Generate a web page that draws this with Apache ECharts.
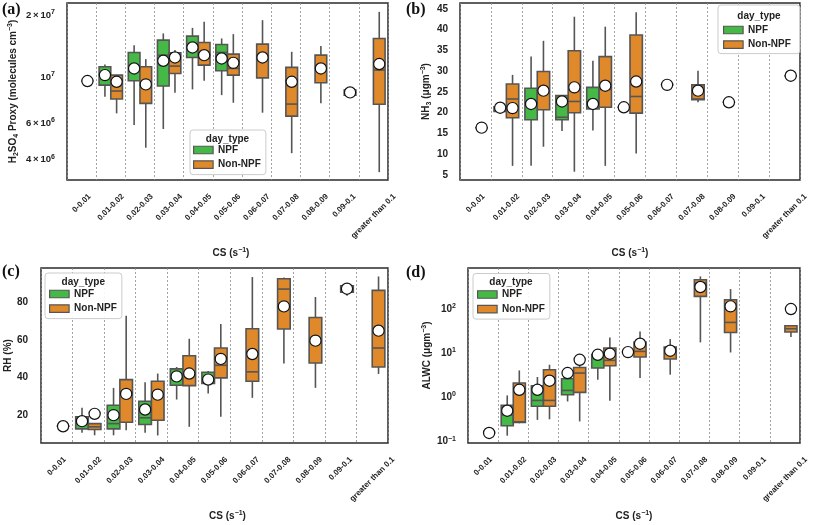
<!DOCTYPE html>
<html><head><meta charset="utf-8">
<script src="https://cdn.jsdelivr.net/npm/echarts@6/dist/echarts.min.js"></script>
<style>html,body{margin:0;padding:0;background:#fff}#c{width:813px;height:525px}</style>
</head><body><div id="c"></div>
<script>
// ---------- data ----------
const categories = ['0-0.01','0.01-0.02','0.02-0.03','0.03-0.04','0.04-0.05','0.05-0.06','0.06-0.07','0.07-0.08','0.08-0.09','0.09-0.1','greater than 0.1'];
const groups = ['NPF', 'Non-NPF'];

// (a) H2SO4 proxy: [min, Q1, median, Q3, max]
const h2so4NPF = [null,
  [8.06e6, 9.18e6, 1.02e7, 1.125e7, 1.156e7],
  [5.88e6, 9.63e6, 1.10e7, 1.32e7, 1.43e7],
  [5.63e6, 9.08e6, 1.281e7, 1.514e7, 1.632e7],
  [8.75e6, 1.249e7, 1.42e7, 1.583e7, 1.736e7],
  [8.21e6, 1.076e7, 1.32e7, 1.443e7, 1.543e7],
  null, null, null, null, null];
const h2so4NPFMean = [null, 1.026e7, 1.105e7, 1.203e7, 1.396e7, 1.235e7, null, null, null, null, null];
const h2so4Non = [
  [9.6e6, 9.6e6, 9.6e6, 9.6e6, 9.6e6],
  [6.70e6, 7.86e6, 8.59e6, 1.026e7, 1.026e7],
  [4.57e6, 7.49e6, 9.2e6, 1.125e7, 1.226e7],
  [8.43e6, 1.045e7, 1.134e7, 1.315e7, 1.355e7],
  [9.63e6, 1.147e7, 1.29e7, 1.476e7, 1.856e7],
  [7.54e6, 1.026e7, 1.105e7, 1.296e7, 1.619e7],
  [6.75e6, 9.95e6, 1.25e7, 1.448e7, 1.891e7],
  [4.30e6, 6.50e6, 7.43e6, 1.118e7, 1.33e7],
  [7.49e6, 9.42e6, 1.10e7, 1.281e7, 1.42e7],
  [8.06e6, 8.21e6, 8.45e6, 8.68e6, 8.68e6],
  [3.48e6, 7.41e6, 1.085e7, 1.543e7, 2.075e7]];
const h2so4NonMean = [9.6e6, 9.52e6, 9.25e6, 1.249e7, 1.281e7, 1.176e7, 1.249e7, 9.52e6, 1.105e7, 8.46e6, 1.16e7];

// (b) NH3
const nh3NPF = [null,
  [20.2, 20.3, 20.8, 21.4, 21.5],
  [7.2, 18.3, 22.0, 25.9, 33.5],
  [15.6, 18.3, 18.9, 24.1, 24.1],
  [15.7, 20.9, 21.8, 26.1, 32.5],
  [21.3, 21.3, 21.3, 21.3, 21.3],
  null, null, null, null, null];
const nh3NPFMean = [null, 21.2, 22.1, 22.7, 22.1, 21.3, null, null, null, null, null];
const nh3Non = [
  [16.4, 16.4, 16.4, 16.4, 16.4],
  [7.2, 18.8, 23.3, 26.9, 29.1],
  [11.8, 20.7, 25.0, 29.9, 37.3],
  [5.8, 20.0, 22.7, 34.9, 43.1],
  [7.2, 21.3, 25.6, 33.5, 40.7],
  [10.2, 19.9, 23.9, 38.7, 44.2],
  [26.7, 26.7, 26.7, 26.7, 26.7],
  [22.5, 23.1, 23.3, 26.7, 30.1],
  [22.5, 22.5, 22.5, 22.5, 22.5],
  null,
  [28.9, 28.9, 28.9, 28.9, 28.9]];
const nh3NonMean = [16.4, 21.1, 25.3, 26.1, 26.5, 27.5, 26.7, 25.3, 22.5, null, 28.9];

// (c) RH
const rhNPF = [null,
  [10.7, 12.8, 16.0, 19.2, 24.0],
  [9.4, 12.8, 15.6, 25.4, 34.6],
  [10.7, 15.1, 18.7, 27.5, 37.6],
  [28.4, 36.0, 41.0, 44.7, 45.7],
  [31.6, 36.9, 39.5, 42.9, 43.6],
  null, null, null, null, null];
const rhNPFMean = [null, 16.9, 20.1, 23.1, 40.7, 39.0, null, null, null, null, null];
const rhNon = [
  [14.2, 14.2, 14.2, 14.2, 14.2],
  [9.4, 12.5, 13.9, 15.6, 15.6],
  [12.1, 16.3, 32.5, 39.0, 72.9],
  [9.3, 17.4, 31.0, 38.1, 42.2],
  [13.9, 35.8, 42.0, 51.7, 60.7],
  [19.2, 39.9, 46.6, 55.8, 68.5],
  [29.3, 38.1, 43.1, 66.0, 93.5],
  [47.5, 65.9, 87.1, 92.6, 93.3],
  [34.6, 47.8, 61.1, 72.0, 82.9],
  [83.6, 85.5, 87.3, 88.9, 88.9],
  [42.0, 45.7, 55.8, 86.4, 93.8]];
const rhNonMean = [14.2, 20.8, 31.4, 31.0, 42.2, 50.0, 52.6, 77.9, 59.7, 87.3, 65.0];

// (d) ALWC
const alwcNPF = [null,
  [0.136, 0.229, 0.40, 0.66, 1.11],
  [0.31, 0.63, 0.855, 1.84, 2.9],
  [0.81, 1.15, 1.44, 2.65, 2.65],
  [2.51, 4.62, 8.0, 9.25, 9.5],
  [10.6, 10.6, 10.6, 10.6, 10.6],
  null, null, null, null, null];
const alwcNPFMean = [null, 0.50, 1.49, 3.56, 9.2, 10.6, null, null, null, null, null];
const alwcNon = [
  [0.157, 0.157, 0.157, 0.157, 0.157],
  [0.26, 0.272, 0.28, 2.12, 4.08],
  [0.32, 0.63, 0.855, 4.23, 5.5],
  [0.286, 1.30, 3.56, 4.77, 5.5],
  [0.84, 5.2, 6.9, 13.1, 22.8],
  [2.75, 8.2, 11.0, 17.9, 31.1],
  [3.27, 7.4, 11.0, 13.8, 20.9],
  [17.6, 193, 387, 460, 547],
  [10.4, 29.5, 49.8, 162, 283],
  null,
  [23.3, 30.2, 35.8, 41.9, 41.9]];
const alwcNonMean = [0.157, 1.49, 2.39, 7.1, 9.75, 16.4, 11.4, 315, 115, null, 100];

// tick labels
const h2so4Ticks = [4e6, 6e6, 1e7, 2e7];
const nh3Ticks = [5, 10, 15, 20, 25, 30, 35, 40, 45];
const rhTicks = [20, 40, 60, 80];
const alwcTicks = [0.1, 1, 10, 100];

// ---------- styling ----------
const FONT = '"Liberation Sans", Arial, sans-serif';
const GREEN = '#45b945', ORANGE = '#e0892a', EDGE = '#555555';
const TXT = '#222';

const chart = echarts.init(document.getElementById('c'), null, {renderer: 'canvas'});

function boxData(stats) { const out = []; stats.forEach((s, i) => { if (s) out.push([i].concat(s)); }); return out; }
function meanData(ms) { const out = []; ms.forEach((m, i) => { if (m != null) out.push([i, m]); }); return out; }

function renderBox(side) {
  return function (params, api) {
    const i = api.value(0);
    const v = [api.value(1), api.value(2), api.value(3), api.value(4), api.value(5)];
    const band = api.coord([1, v[2]])[0] - api.coord([0, v[2]])[0];
    const cx = api.coord([i, v[2]])[0] + side * 0.2 * band;
    const w = 0.4 * band;
    const y = v.map(val => api.coord([i, val])[1]);
    const ls = {stroke: EDGE, lineWidth: 1.6};
    return {type: 'group', children: [
      {type: 'line', shape: {x1: cx, y1: y[4], x2: cx, y2: y[3]}, style: ls},
      {type: 'line', shape: {x1: cx, y1: y[1], x2: cx, y2: y[0]}, style: ls},
      {type: 'rect', shape: {x: cx - w / 2, y: y[3], width: w, height: Math.max(y[1] - y[3], 0)},
        style: {fill: api.visual('color'), stroke: EDGE, lineWidth: 1.6}},
      {type: 'line', shape: {x1: cx - w / 2, y1: y[2], x2: cx + w / 2, y2: y[2]}, style: ls}
    ]};
  };
}
function renderMean(side) {
  return function (params, api) {
    const i = api.value(0), m = api.value(1);
    const p = api.coord([i, m]);
    const band = api.coord([1, m])[0] - api.coord([0, m])[0];
    return {type: 'circle', shape: {cx: p[0] + side * 0.2 * band, cy: p[1], r: 5.6},
      style: {fill: '#ffffff', stroke: '#111', lineWidth: 1.2}};
  };
}

// rotated x label padding (per label) to emulate top-aligned rotated bbox
const mctx = document.createElement('canvas').getContext('2d');
mctx.font = 'bold 8px "Liberation Sans"';
const xRich = {};
categories.forEach((c, i) => {
  const L = mctx.measureText(c).width;
  const p = 0.5 * (L + 9);
  xRich['p' + i] = {fontSize: 8, fontWeight: 'bold', fontFamily: FONT, color: TXT, padding: [p, p, 0, 0]};
});

const nameRich = {
  n: {fontSize: 10, fontWeight: 'bold', fontFamily: FONT, color: TXT},
  sp: {fontSize: 7, fontWeight: 'bold', fontFamily: FONT, color: TXT, padding: [0, 0, 6, 0]},
  sb: {fontSize: 7, fontWeight: 'bold', fontFamily: FONT, color: TXT, padding: [5, 0, 0, 0]}
};

const grids = [
  {left: 67, top: 3, width: 321, height: 177},
  {left: 460, top: 3, width: 340, height: 177},
  {left: 41, top: 268, width: 347, height: 175},
  {left: 468, top: 268, width: 332, height: 175}
].map(g => Object.assign({show: true, borderColor: '#2b2b2b', borderWidth: 1.5, backgroundColor: 'transparent', containLabel: false}, g));

const xNamePad = [[0, 0, 0, 7], [0, 0, 0, 0], [0, 0, 0, 26], [0, 0, 0, 0]];
const xAxes = grids.map((g, gi) => ({
  type: 'category', gridIndex: gi, data: categories, boundaryGap: true,
  axisLine: {show: false}, axisTick: {show: false},
  splitLine: {show: true, lineStyle: {color: '#8c8c8c', width: 0.8, type: [2, 2]}},
  axisLabel: {interval: 0, rotate: 45, align: 'center', verticalAlign: 'middle', margin: 12,
    formatter: (v, i) => '{p' + i + '|' + v + '}', rich: xRich},
  name: '{n|CS (s}{sp|−1}{n|)}', nameLocation: 'middle', nameGap: 67,
  nameTextStyle: {rich: nameRich, padding: xNamePad[gi]}
}));

function sciFmt(v) {
  const e = Math.floor(Math.log10(v) + 1e-6);
  const m = Math.round(v / Math.pow(10, e));
  return m === 1 ? '10{s|' + e + '}' : m + '\u2009×\u200910{s|' + e + '}';
}
function expFmt(v) {
  const e = Math.round(Math.log10(v));
  return '10{s|' + (e < 0 ? '−' + (-e) : e) + '}';
}
const labBase = {fontSize: 10, fontWeight: 'bold', fontFamily: FONT, color: TXT};
const yCommon = {axisLine: {show: false}, axisTick: {show: false}, splitLine: {show: false}, minorTick: {show: false}, minorSplitLine: {show: false},
  nameLocation: 'middle', nameRotate: 90};

const yAxes = [
  Object.assign({}, yCommon, {type: 'log', logBase: 10, gridIndex: 0, min: 3.19e6, max: 2.29e7,
    axisLabel: {customValues: h2so4Ticks, formatter: sciFmt, margin: 12,
      rich: {s: {fontSize: 7, fontWeight: 'bold', fontFamily: FONT, color: TXT, padding: [0, 0, 6, 0]}},
      fontSize: 9.5, fontWeight: 'bold', fontFamily: FONT, color: TXT},
    name: '{n|H}{sb|2}{n|SO}{sb|4}{n| Proxy (molecules cm}{sp|−3}{n|)}', nameGap: 47,
    nameTextStyle: {rich: nameRich}}),
  Object.assign({}, yCommon, {type: 'value', gridIndex: 1, min: 3.8, max: 46.4,
    axisLabel: Object.assign({customValues: nh3Ticks, margin: 12}, labBase),
    name: '{n|NH}{sb|3}{n| (μgm}{sp|−3}{n|)}', nameGap: 27, nameTextStyle: {rich: nameRich}}),
  Object.assign({}, yCommon, {type: 'value', gridIndex: 2, min: 5.3, max: 98.3,
    axisLabel: Object.assign({customValues: rhTicks, margin: 13}, labBase),
    name: '{n|RH (%)}', nameGap: 25, nameTextStyle: {rich: nameRich}}),
  Object.assign({}, yCommon, {type: 'log', logBase: 10, gridIndex: 3, min: 0.093, max: 848,
    axisLabel: Object.assign({customValues: alwcTicks, formatter: expFmt, margin: 12,
      rich: {s: {fontSize: 7, fontWeight: 'bold', fontFamily: FONT, color: TXT, padding: [0, 0, 6, 0]}}}, labBase),
    name: '{n|ALWC (μgm}{sp|−3}{n|)}', nameGap: 34, nameTextStyle: {rich: nameRich}})
];

const panels = [
  {npf: h2so4NPF, npfMean: h2so4NPFMean, non: h2so4Non, nonMean: h2so4NonMean},
  {npf: nh3NPF, npfMean: nh3NPFMean, non: nh3Non, nonMean: nh3NonMean},
  {npf: rhNPF, npfMean: rhNPFMean, non: rhNon, nonMean: rhNonMean},
  {npf: alwcNPF, npfMean: alwcNPFMean, non: alwcNon, nonMean: alwcNonMean}
];

const series = [];
panels.forEach((p, g) => {
  series.push({type: 'custom', name: groups[0], xAxisIndex: g, yAxisIndex: g, renderItem: renderBox(-1),
    data: boxData(p.npf), encode: {x: 0, y: [1, 2, 3, 4, 5]}, itemStyle: {color: GREEN}, z: 2, silent: true});
  series.push({type: 'custom', name: groups[1], xAxisIndex: g, yAxisIndex: g, renderItem: renderBox(1),
    data: boxData(p.non), encode: {x: 0, y: [1, 2, 3, 4, 5]}, itemStyle: {color: ORANGE}, z: 2, silent: true});
  series.push({type: 'custom', name: 'mean-npf-' + g, xAxisIndex: g, yAxisIndex: g, renderItem: renderMean(-1),
    data: meanData(p.npfMean), encode: {x: 0, y: 1}, z: 5, silent: true});
  series.push({type: 'custom', name: 'mean-non-' + g, xAxisIndex: g, yAxisIndex: g, renderItem: renderMean(1),
    data: meanData(p.nonMean), encode: {x: 0, y: 1}, z: 5, silent: true});
});

const legendBoxes = [
  {left: 190, top: 130, padding: [14, 5, 4, 3], title: [227.5, 139]},
  {left: 718, top: 5, padding: [19, 9, 3, 5], title: [759, 16.5]},
  {left: 45, top: 273, padding: [15, 5, 4, 4], title: [83.3, 282]},
  {left: 473, top: 273.5, padding: [15, 5, 4, 4], title: [511, 282.5]}
];
const legends = legendBoxes.map(b => ({
  left: b.left, top: b.top, orient: 'vertical', padding: b.padding, itemGap: 2.6,
  itemWidth: 19.5, itemHeight: 7.5, selectedMode: false,
  backgroundColor: 'rgba(255,255,255,0.9)', borderColor: '#cccccc', borderWidth: 1, borderRadius: 3,
  textStyle: {fontSize: 10, fontWeight: 'bold', fontFamily: FONT, color: TXT, lineHeight: 12},
  data: [
    {name: groups[0], icon: 'rect', itemStyle: {color: GREEN, borderColor: EDGE, borderWidth: 1.2}},
    {name: groups[1], icon: 'rect', itemStyle: {color: ORANGE, borderColor: EDGE, borderWidth: 1.2}}
  ]
}));

const graphics = [];
legendBoxes.forEach(b => graphics.push({type: 'text', x: b.title[0], y: b.title[1], z: 100,
  style: {text: 'day_type', align: 'center', verticalAlign: 'middle', font: 'bold 10px ' + FONT, fill: TXT}}));
[['(a)', 2, 2], ['(b)', 406, 2], ['(c)', 2, 264], ['(d)', 406, 265]].forEach(t => graphics.push({
  type: 'text', x: t[1], y: t[2], z: 100,
  style: {text: t[0], font: 'bold 16px "Liberation Serif", "Times New Roman", serif', fill: '#111'}}));

chart.setOption({
  animation: false,
  backgroundColor: '#ffffff',
  grid: grids, xAxis: xAxes, yAxis: yAxes, series: series, legend: legends,
  graphic: {elements: graphics}
});
</script></body></html>
